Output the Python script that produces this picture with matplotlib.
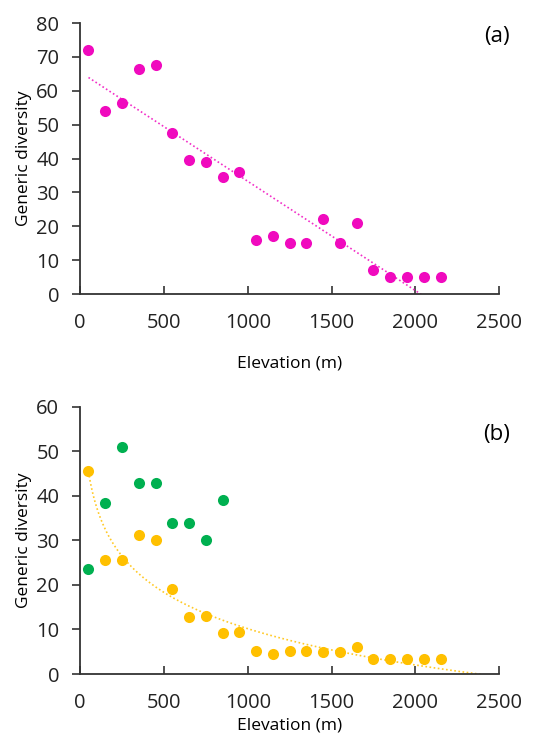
import numpy as np
import matplotlib.pyplot as plt

plt.rcParams['font.family'] = ['Open Sans', 'DejaVu Sans']

# panel (a)
elev_a = [50, 150, 250, 350, 450, 550, 650, 750, 850, 950, 1050,
          1150, 1250, 1350, 1450, 1550, 1650, 1750, 1850, 1950, 2050, 2150]
div_a = [72, 54, 56.5, 66.5, 67.5, 47.5, 39.5, 39, 34.5, 36, 16,
         17, 15, 15, 22, 15, 21, 7, 5, 5, 5, 5]

# panel (b)
elev_green = [50, 150, 250, 350, 450, 550, 650, 750, 850]
div_green = [23.5, 38.3, 51, 42.8, 42.8, 34, 34, 30, 39]
elev_orange = elev_a
div_orange = [45.5, 25.5, 25.5, 31.2, 30, 19, 12.8, 13, 9.2, 9.5, 5.2,
              4.6, 5.2, 5.2, 5, 5, 6, 3.4, 3.4, 3.4, 3.4, 3.4]

magenta = '#F00ABE'
green = '#00B050'
gold = '#FFC000'

fig = plt.figure(figsize=(5.45, 7.47), dpi=100)
ax1 = fig.add_axes([0.147, 0.6064, 0.769, 0.3628])
ax2 = fig.add_axes([0.147, 0.0977, 0.769, 0.3579])

# (a) linear trend
ax1.scatter(elev_a, div_a, s=64, color=magenta, zorder=3, linewidths=0)
k, b = np.polyfit(elev_a, div_a, 1)
xa = np.linspace(min(elev_a), max(elev_a), 200)
ax1.plot(xa, k * xa + b, color=magenta, lw=1.2, ls=(0, (1, 1.5)), zorder=2, alpha=0.85)
ax1.set_ylim(0, 80)
ax1.set_yticks(range(0, 81, 10))
ax1.set_ylabel('Generic diversity', fontsize=12.5, labelpad=3)
ax1.set_xlabel('Elevation (m)', fontsize=12.5, labelpad=16)
ax1.text(1.025, 0.95, '(a)', transform=ax1.transAxes, ha='right', va='center', fontsize=16)

# (b) log trend on the orange series
ax2.scatter(elev_green, div_green, s=64, color=green, zorder=3, linewidths=0)
ax2.scatter(elev_orange, div_orange, s=64, color=gold, zorder=3, linewidths=0)
c1, c0 = np.polyfit(np.log(elev_orange), div_orange, 1)
xb = np.linspace(min(elev_orange), 2500, 300)
ax2.plot(xb, c1 * np.log(xb) + c0, color=gold, lw=1.2, ls=(0, (1, 1.5)), zorder=2, alpha=0.85)
ax2.set_ylim(0, 60)
ax2.set_yticks(range(0, 61, 10))
ax2.set_ylabel('Generic diversity', fontsize=12.5, labelpad=3)
ax2.set_xlabel('Elevation (m)', fontsize=12.5, labelpad=3)
ax2.text(1.025, 0.895, '(b)', transform=ax2.transAxes, ha='right', va='center', fontsize=16)

for ax in (ax1, ax2):
    ax.set_xlim(0, 2500)
    ax.set_xticks(range(0, 2501, 500))
    ax.spines['top'].set_visible(False)
    ax.spines['right'].set_visible(False)
    ax.spines['left'].set_linewidth(1.3)
    ax.spines['bottom'].set_linewidth(1.3)
    ax.spines['left'].set_color('#333333')
    ax.spines['bottom'].set_color('#333333')
    ax.tick_params(labelsize=14.5, width=1.2, color='#333333', labelcolor='#222222')
    ax.tick_params(axis='y', direction='out', length=6, pad=9)
    ax.tick_params(axis='x', direction='in', length=6, pad=14)

fig.savefig('out.png', dpi=100)
